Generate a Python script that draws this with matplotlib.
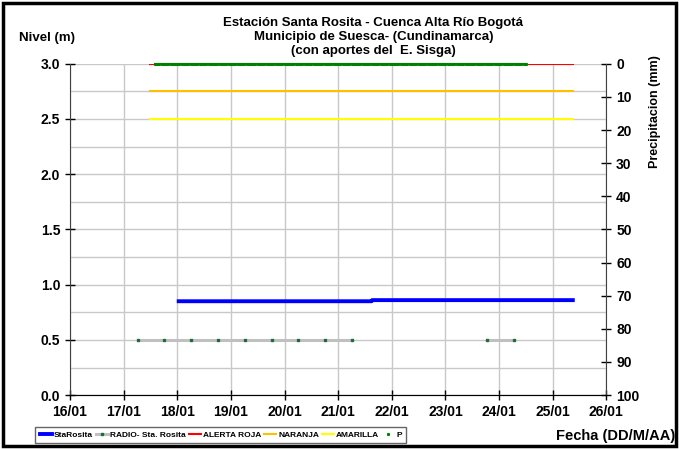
import pandas as pd
import matplotlib.pyplot as plt
import matplotlib.dates as mdates
from matplotlib.patches import Rectangle

plt.rcParams['font.family'] = ['Liberation Sans', 'DejaVu Sans']
plt.rcParams['font.weight'] = 'bold'

# nivel StaRosita (m)
sta_time = ['2012-01-18 00:40', '2012-01-21 15:00', '2012-01-21 15:10', '2012-01-25 09:00']
sta_level = [0.85, 0.85, 0.86, 0.86]

# RADIO - Sta. Rosita (m)
radio_time = ['2012-01-17 06:15', '2012-01-17 18:15', '2012-01-18 06:15', '2012-01-18 18:15',
              '2012-01-19 06:15', '2012-01-19 18:15', '2012-01-20 06:15', '2012-01-20 18:15',
              '2012-01-21 06:15', None,
              '2012-01-23 18:45', '2012-01-24 06:45']
radio_level = [0.5, 0.5, 0.5, 0.5, 0.5, 0.5, 0.5, 0.5, 0.5, None, 0.5, 0.5]

# umbrales
alert_time = ['2012-01-17 12:00', '2012-01-25 09:00']
roja = [3.0, 3.0]
naranja = [2.75, 2.75]
amarilla = [2.5, 2.5]

# precipitacion (mm), lecturas horarias
p_time = pd.date_range('2012-01-17 14:00', '2012-01-24 12:00', freq='h')
p_mm = [0.0] * len(p_time)

radio_t = pd.to_datetime(pd.Series(radio_time))
radio_y = pd.Series(radio_level, dtype=float)

fig = plt.figure(figsize=(6.79, 4.49), dpi=100)
ax = fig.add_axes([0.103, 0.12, 0.79, 0.738])
ax2 = ax.twinx()

ax.plot(pd.to_datetime(sta_time), sta_level, color='#0000ff', lw=2.8, label='StaRosita', zorder=4)
ax.plot(radio_t, radio_y, color='#c0c0c0', lw=2.2, marker='s', ms=2, mfc='#1f6b3a', mec='#1f6b3a',
        label='RADIO- Sta. Rosita', zorder=3)
ax.plot(pd.to_datetime(alert_time), roja, color='#ff0000', lw=1.5, label='ALERTA ROJA', zorder=3)
ax.plot(pd.to_datetime(alert_time), naranja, color='#ffc000', lw=1.5, label='NARANJA', zorder=3)
ax.plot(pd.to_datetime(alert_time), amarilla, color='#ffff00', lw=1.5, label='AMARILLA', zorder=3)
pl, = ax2.plot(p_time, p_mm, color='#008000', lw=1.5, marker='s', ms=1.2, label='P',
               clip_on=False, zorder=5)

ax.set_xlim(pd.Timestamp('2012-01-16'), pd.Timestamp('2012-01-26'))
ax.set_ylim(0, 3.0)
ax.set_yticks([0, 0.5, 1.0, 1.5, 2.0, 2.5, 3.0])
ax.set_yticks([0.25, 0.75, 1.25, 1.75, 2.25, 2.75], minor=True)
ax.yaxis.set_major_formatter(plt.FormatStrFormatter('%.1f'))
ax.xaxis.set_major_locator(mdates.DayLocator())
ax.xaxis.set_major_formatter(mdates.DateFormatter('%d/%m'))
ax.grid(True, which='both', color='#c8c8c8', lw=1)
ax.set_axisbelow(True)

ax2.set_ylim(100, 0)
ax2.set_yticks(range(0, 101, 10))

for a in (ax, ax2):
    a.spines['top'].set_visible(False)
    a.tick_params(which='major', direction='inout', length=7, width=1, labelsize=10)
    a.tick_params(which='minor', length=0)
ax2.spines['left'].set_visible(False)
ax.spines['right'].set_visible(False)
for s in ('left', 'bottom'):
    ax.spines[s].set_color('#404040')
ax2.spines['right'].set_color('#404040')

fig.text(0.55, 0.962, 'Estación Santa Rosita - Cuenca Alta Río Bogotá\nMunicipio de Suesca- (Cundinamarca)\n(con aportes del  E. Sisga)',
         ha='center', va='top', fontsize=9.5, linespacing=1.2)
fig.text(0.028, 0.915, 'Nivel (m)', fontsize=9.5, va='center')
fig.text(0.965, 0.878, 'Precipitacion (mm)', rotation=90, ha='center', va='top', fontsize=9)
fig.text(0.995, 0.03, 'Fecha (DD/M/AA)', ha='right', va='center', fontsize=10.5)

h, l = ax.get_legend_handles_labels()
leg = fig.legend(h + [pl], l + ['P'], loc='center left', bbox_to_anchor=(0.046, 0.031), ncol=6,
                 fontsize=6, frameon=True, fancybox=False, edgecolor='#404040',
                 handlelength=1.5, handletextpad=0.2, columnspacing=0.35, borderpad=0.5)
leg.legend_handles[-1].set_linestyle('none')

fig.patches.append(Rectangle((0.004, 0.006), 0.992, 0.988, transform=fig.transFigure,
                             fill=False, edgecolor='black', lw=2.5))

fig.savefig('out.png', dpi=100)
